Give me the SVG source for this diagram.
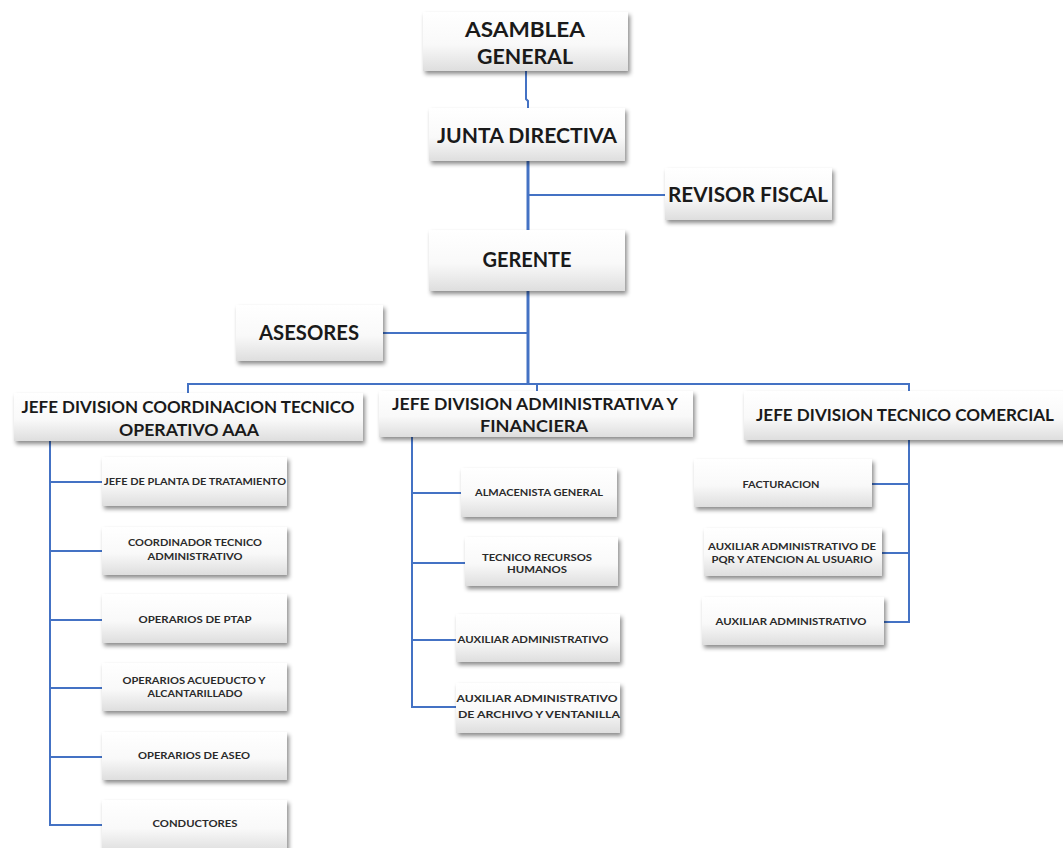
<svg xmlns="http://www.w3.org/2000/svg" width="1063" height="848" viewBox="0 0 1063 848">
<defs>
<linearGradient id="g" x1="0" y1="0" x2="0" y2="1">
<stop offset="0" stop-color="#ffffff"/>
<stop offset="0.55" stop-color="#f9f9f9"/>
<stop offset="1" stop-color="#dedede"/>
</linearGradient>
<filter id="sh" x="-10%" y="-20%" width="125%" height="150%">
<feDropShadow dx="2" dy="3" stdDeviation="2" flood-color="#000" flood-opacity="0.45"/>
</filter>
<style>
.box{fill:url(#g);filter:url(#sh);}
.big{font-family:Lato,"Open Sans","Liberation Sans",sans-serif;font-weight:bold;font-size:20px;fill:#1a1a1a;}
.mid{font-family:Lato,"Open Sans","Liberation Sans",sans-serif;font-weight:bold;font-size:17px;fill:#1a1a1a;}
.sm{font-family:Lato,"Open Sans","Liberation Sans",sans-serif;font-weight:bold;font-size:8.5px;fill:#2a2a2a;}
.ln{fill:none;stroke:#4472C4;stroke-width:2;}
.thk{fill:none;stroke:#4472C4;stroke-width:3;}
</style>
</defs>
<rect width="1063" height="848" fill="#ffffff"/>

<g id="connectors">
<path class="ln" d="M526 71 V99 L528 101 V108"/>
<path class="thk" d="M528 161 V230"/>
<path class="ln" d="M528 195 H665"/>
<path class="thk" d="M528 291 V384"/>
<path class="ln" d="M383 333 H528"/>
<path class="ln" d="M188 393 V384 H909 V391"/>
<path class="ln" d="M537 384 V391"/>
<path class="ln" d="M50 441 V825 H102"/>
<path class="ln" d="M50 482 H102 M50 551 H102 M50 620 H102 M50 688 H102 M50 757 H102"/>
<path class="ln" d="M412 437 V707 H456"/>
<path class="ln" d="M412 493 H461 M412 563 H465 M412 640 H456"/>
<path class="ln" d="M909 440 V622 H884"/>
<path class="ln" d="M909 484 H872 M909 553 H882"/>
</g>

<g id="asamblea">
<rect class="box" x="423" y="12" width="205" height="59"/>
<text class="big" x="525" y="37" text-anchor="middle" textLength="120" lengthAdjust="spacingAndGlyphs">ASAMBLEA</text>
<text class="big" x="525" y="64" text-anchor="middle" textLength="96" lengthAdjust="spacingAndGlyphs">GENERAL</text>
</g>
<g id="junta">
<rect class="box" x="429" y="108" width="196" height="53"/>
<text class="big" x="527" y="143" text-anchor="middle" textLength="180" lengthAdjust="spacingAndGlyphs">JUNTA  DIRECTIVA</text>
</g>
<g id="revisor">
<rect class="box" x="665" y="168" width="167" height="52"/>
<text class="big" x="748" y="202" text-anchor="middle" textLength="160" lengthAdjust="spacingAndGlyphs">REVISOR  FISCAL</text>
</g>
<g id="gerente">
<rect class="box" x="429" y="230" width="196" height="61"/>
<text class="big" x="527" y="267" text-anchor="middle" textLength="89" lengthAdjust="spacingAndGlyphs">GERENTE</text>
</g>
<g id="asesores">
<rect class="box" x="236" y="305" width="147" height="56"/>
<text class="big" x="309" y="340" text-anchor="middle" textLength="100" lengthAdjust="spacingAndGlyphs">ASESORES</text>
</g>

<g id="jefe-operativo">
<rect class="box" x="14" y="393" width="349" height="48"/>
<text class="mid" x="188" y="413" text-anchor="middle" textLength="333" lengthAdjust="spacingAndGlyphs">JEFE DIVISION COORDINACION TECNICO</text>
<text class="mid" x="189" y="436" text-anchor="middle" textLength="140" lengthAdjust="spacingAndGlyphs">OPERATIVO AAA</text>
</g>
<g id="jefe-administrativa">
<rect class="box" x="379" y="391" width="314" height="46"/>
<text class="mid" x="535" y="410" text-anchor="middle" textLength="286" lengthAdjust="spacingAndGlyphs">JEFE DIVISION ADMINISTRATIVA Y</text>
<text class="mid" x="534" y="432" text-anchor="middle" textLength="108" lengthAdjust="spacingAndGlyphs">FINANCIERA</text>
</g>
<g id="jefe-comercial">
<rect class="box" x="744" y="391" width="330" height="49"/>
<text class="mid" x="905" y="421" text-anchor="middle" textLength="298" lengthAdjust="spacingAndGlyphs">JEFE DIVISION TECNICO COMERCIAL</text>
</g>

<g id="jefe-planta">
<rect class="box" x="102" y="457" width="185" height="49"/>
<text class="sm" x="195" y="485" text-anchor="middle" textLength="182" lengthAdjust="spacingAndGlyphs">JEFE DE PLANTA DE TRATAMIENTO</text>
</g>
<g id="coordinador">
<rect class="box" x="102" y="527" width="185" height="48"/>
<text class="sm" x="195" y="546" text-anchor="middle" textLength="134" lengthAdjust="spacingAndGlyphs">COORDINADOR TECNICO</text>
<text class="sm" x="195" y="560" text-anchor="middle" textLength="95" lengthAdjust="spacingAndGlyphs">ADMINISTRATIVO</text>
</g>
<g id="operarios-ptap">
<rect class="box" x="102" y="594" width="185" height="49"/>
<text class="sm" x="195" y="623" text-anchor="middle" textLength="113" lengthAdjust="spacingAndGlyphs">OPERARIOS DE PTAP</text>
</g>
<g id="operarios-acueducto">
<rect class="box" x="102" y="663" width="185" height="48"/>
<text class="sm" x="194" y="684" text-anchor="middle" textLength="143" lengthAdjust="spacingAndGlyphs">OPERARIOS ACUEDUCTO Y</text>
<text class="sm" x="195" y="697" text-anchor="middle" textLength="95" lengthAdjust="spacingAndGlyphs">ALCANTARILLADO</text>
</g>
<g id="operarios-aseo">
<rect class="box" x="102" y="732" width="185" height="48"/>
<text class="sm" x="194" y="759" text-anchor="middle" textLength="112" lengthAdjust="spacingAndGlyphs">OPERARIOS DE ASEO</text>
</g>
<g id="conductores">
<rect class="box" x="102" y="800" width="185" height="52"/>
<text class="sm" x="195" y="827" text-anchor="middle" textLength="85" lengthAdjust="spacingAndGlyphs">CONDUCTORES</text>
</g>

<g id="almacenista">
<rect class="box" x="461" y="468" width="156" height="49"/>
<text class="sm" x="539" y="496" text-anchor="middle" textLength="128" lengthAdjust="spacingAndGlyphs">ALMACENISTA GENERAL</text>
</g>
<g id="tecnico-rrhh">
<rect class="box" x="465" y="537" width="153" height="49"/>
<text class="sm" x="537" y="561" text-anchor="middle" textLength="110" lengthAdjust="spacingAndGlyphs">TECNICO RECURSOS</text>
<text class="sm" x="537" y="573" text-anchor="middle" textLength="60" lengthAdjust="spacingAndGlyphs">HUMANOS</text>
</g>
<g id="auxiliar-adm-1">
<rect class="box" x="456" y="614" width="164" height="48"/>
<text class="sm" x="533" y="643" text-anchor="middle" textLength="151" lengthAdjust="spacingAndGlyphs">AUXILIAR ADMINISTRATIVO</text>
</g>
<g id="auxiliar-archivo">
<rect class="box" x="456" y="683" width="164" height="50"/>
<text class="sm" x="537" y="702" text-anchor="middle" textLength="161" lengthAdjust="spacingAndGlyphs">AUXILIAR ADMINISTRATIVO</text>
<text class="sm" x="539" y="718" text-anchor="middle" textLength="162" lengthAdjust="spacingAndGlyphs">DE ARCHIVO Y VENTANILLA</text>
</g>

<g id="facturacion">
<rect class="box" x="694" y="459" width="178" height="48"/>
<text class="sm" x="781" y="488" text-anchor="middle" textLength="77" lengthAdjust="spacingAndGlyphs">FACTURACION</text>
</g>
<g id="auxiliar-pqr">
<rect class="box" x="704" y="528" width="178" height="48"/>
<text class="sm" x="792" y="550" text-anchor="middle" textLength="168" lengthAdjust="spacingAndGlyphs">AUXILIAR ADMINISTRATIVO DE</text>
<text class="sm" x="792" y="563" text-anchor="middle" textLength="161" lengthAdjust="spacingAndGlyphs">PQR Y ATENCION AL USUARIO</text>
</g>
<g id="auxiliar-adm-2">
<rect class="box" x="702" y="597" width="182" height="48"/>
<text class="sm" x="791" y="625" text-anchor="middle" textLength="151" lengthAdjust="spacingAndGlyphs">AUXILIAR ADMINISTRATIVO</text>
</g>
</svg>
